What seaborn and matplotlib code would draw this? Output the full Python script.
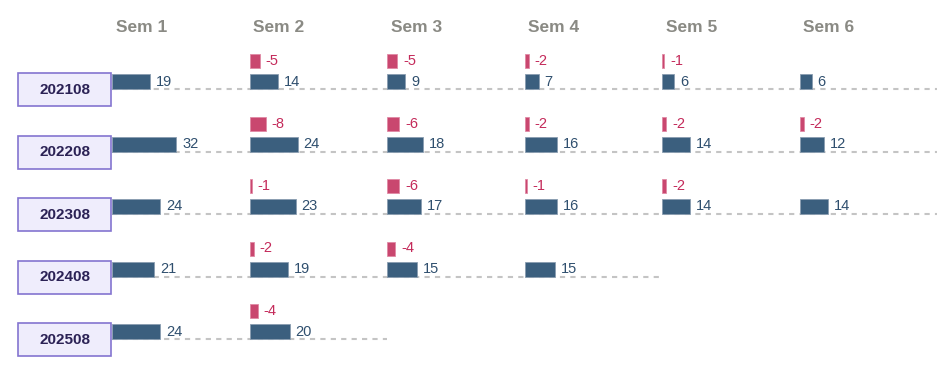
import numpy as np
import pandas as pd
import seaborn as sns
import matplotlib.pyplot as plt
from matplotlib.patches import Rectangle

# cohort enrolment per semester
cohorts = ["202108", "202208", "202308", "202408", "202508"]
semesters = ["Sem 1", "Sem 2", "Sem 3", "Sem 4", "Sem 5", "Sem 6"]
c202108 = [19, 14, 9, 7, 6, 6]
c202208 = [32, 24, 18, 16, 14, 12]
c202308 = [24, 23, 17, 16, 14, 14]
c202408 = [21, 19, 15, 15]
c202508 = [24, 20]
counts = [c202108, c202208, c202308, c202408, c202508]

rows = []
for r, vals in enumerate(counts):
    for s, v in enumerate(vals):
        change = v - vals[s - 1] if s > 0 else 0
        rows.append({"row": r, "sem": s, "count": v, "change": change})
df = pd.DataFrame(rows)

sns.set_theme(style="white")
plt.rcParams["font.family"] = ["Liberation Sans", "DejaVu Sans"]

pos_col = "#3b5f7e"
pos_txt = "#2f4f6e"
neg_col = "#c9476f"
neg_txt = "#c42a5a"

fig = plt.figure(figsize=(9.43, 3.71), dpi=100)
ax = fig.add_axes([0, 0, 1, 1])
span = 68.75  # x units per semester column
ax.set_xlim(-56, 415.5)
ax.set_ylim(4.512, -1.424)
ax.axis("off")

# headers
for s, name in enumerate(semesters):
    ax.text(s * span + 14.75, -0.99, name, ha="center", va="center",
            fontsize=12.5, fontweight="bold", color="#8a8a84")

# baselines and cohort boxes
for r, (cohort, vals) in enumerate(zip(cohorts, counts)):
    ax.plot([0, len(vals) * span], [r, r], ls=(0, (2.5, 2.5)),
            color="#c4c4c4", lw=1.5, zorder=1)
    ax.add_patch(Rectangle((-47, -0.256 + r), 46.5, 0.528,
                           facecolor="#efedfc", edgecolor="#8474d0",
                           lw=1.2, zorder=3))
    ax.text(-23.75, r + 0.01, cohort, ha="center", va="center",
            fontsize=11, fontweight="bold", color="#2b2255", zorder=4)

# count bars
bar_h = 0.24
ax.barh(df["row"] - bar_h / 2, df["count"], height=bar_h,
        left=df["sem"] * span, color=pos_col, edgecolor="#8a9db0",
        lw=0.6, zorder=2)
for _, d in df.iterrows():
    ax.text(d["sem"] * span + d["count"] + 3, d["row"] - 0.12,
            str(d["count"]), ha="left", va="center", fontsize=10.5,
            color=pos_txt)

# change bars
neg = df[df["change"] < 0]
ax.barh(neg["row"] - 0.448, neg["change"].abs(), height=0.224,
        left=neg["sem"] * span, color=neg_col, edgecolor="#e08aa5",
        lw=0.6, zorder=2)
for _, d in neg.iterrows():
    ax.text(d["sem"] * span + abs(d["change"]) + 3, d["row"] - 0.448,
            str(d["change"]), ha="left", va="center", fontsize=10.5,
            color=neg_txt)

plt.savefig("out.png", dpi=100)
